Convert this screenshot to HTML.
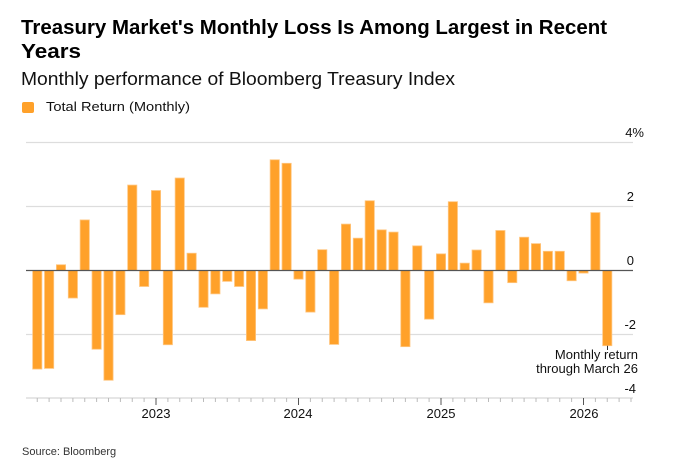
<!DOCTYPE html>
<html><head><meta charset="utf-8"><style>
html,body{margin:0;padding:0;background:#fff;}
svg{display:block;font-family:"Liberation Sans",Arial,sans-serif;}
</style></head><body>
<svg width="676" height="470" viewBox="0 0 676 470" xmlns="http://www.w3.org/2000/svg">
<rect width="676" height="470" fill="#fff"/>
<text x="21" y="34" font-size="20" font-weight="bold" fill="#000" textLength="586" lengthAdjust="spacingAndGlyphs">Treasury Market's Monthly Loss Is Among Largest in Recent</text>
<text x="21" y="58" font-size="20" font-weight="bold" fill="#000" textLength="60" lengthAdjust="spacingAndGlyphs">Years</text>
<text x="21" y="85" font-size="18" fill="#111" textLength="434" lengthAdjust="spacingAndGlyphs">Monthly performance of Bloomberg Treasury Index</text>
<rect x="22" y="102" width="12" height="11" rx="2" fill="#FFA12A"/>
<text x="46" y="111" font-size="13" fill="#111" textLength="144" lengthAdjust="spacingAndGlyphs">Total Return (Monthly)</text>
<g stroke="#ddd" stroke-width="1.2">
<line x1="26" y1="142.5" x2="633" y2="142.5"/>
<line x1="26" y1="206.5" x2="633" y2="206.5"/>
<line x1="26" y1="334.5" x2="633" y2="334.5"/>
</g>
<g font-size="13" fill="#111" text-anchor="end">
<text x="644" y="137">4%</text>
<text x="634" y="201">2</text>
<text x="634" y="265">0</text>
<text x="636" y="329">-2</text>
<text x="636" y="393">-4</text>
</g>
<g fill="#FFA12A" stroke="#FFC680" stroke-width="0.8">
<rect x="32.65" y="270.5" width="9.2" height="98.56"/>
<rect x="44.53" y="270.5" width="9.2" height="97.92"/>
<rect x="56.4" y="264.74" width="9.2" height="5.76"/>
<rect x="68.28" y="270.5" width="9.2" height="27.52"/>
<rect x="80.15" y="219.94" width="9.2" height="50.56"/>
<rect x="92.03" y="270.5" width="9.2" height="78.72"/>
<rect x="103.9" y="270.5" width="9.2" height="109.76"/>
<rect x="115.78" y="270.5" width="9.2" height="44.16"/>
<rect x="127.65" y="185.06" width="9.2" height="85.44"/>
<rect x="139.53" y="270.5" width="9.2" height="16"/>
<rect x="151.4" y="190.5" width="9.2" height="80"/>
<rect x="163.28" y="270.5" width="9.2" height="74.24"/>
<rect x="175.15" y="178.02" width="9.2" height="92.48"/>
<rect x="187.03" y="253.22" width="9.2" height="17.28"/>
<rect x="198.9" y="270.5" width="9.2" height="36.8"/>
<rect x="210.78" y="270.5" width="9.2" height="23.36"/>
<rect x="222.65" y="270.5" width="9.2" height="10.88"/>
<rect x="234.53" y="270.5" width="9.2" height="16"/>
<rect x="246.4" y="270.5" width="9.2" height="70.08"/>
<rect x="258.28" y="270.5" width="9.2" height="38.4"/>
<rect x="270.15" y="159.78" width="9.2" height="110.72"/>
<rect x="282.03" y="163.3" width="9.2" height="107.2"/>
<rect x="293.9" y="270.5" width="9.2" height="8.64"/>
<rect x="305.78" y="270.5" width="9.2" height="41.6"/>
<rect x="317.65" y="249.7" width="9.2" height="20.8"/>
<rect x="329.53" y="270.5" width="9.2" height="73.92"/>
<rect x="341.4" y="224.1" width="9.2" height="46.4"/>
<rect x="353.28" y="238.18" width="9.2" height="32.32"/>
<rect x="365.15" y="200.74" width="9.2" height="69.76"/>
<rect x="377.03" y="229.86" width="9.2" height="40.64"/>
<rect x="388.9" y="232.1" width="9.2" height="38.4"/>
<rect x="400.78" y="270.5" width="9.2" height="76.16"/>
<rect x="412.65" y="245.86" width="9.2" height="24.64"/>
<rect x="424.53" y="270.5" width="9.2" height="48.64"/>
<rect x="436.4" y="253.86" width="9.2" height="16.64"/>
<rect x="448.28" y="201.7" width="9.2" height="68.8"/>
<rect x="460.15" y="263.14" width="9.2" height="7.36"/>
<rect x="472.03" y="250.02" width="9.2" height="20.48"/>
<rect x="483.9" y="270.5" width="9.2" height="32.32"/>
<rect x="495.78" y="230.5" width="9.2" height="40"/>
<rect x="507.65" y="270.5" width="9.2" height="12.16"/>
<rect x="519.53" y="237.22" width="9.2" height="33.28"/>
<rect x="531.4" y="243.62" width="9.2" height="26.88"/>
<rect x="543.28" y="251.3" width="9.2" height="19.2"/>
<rect x="555.15" y="251.3" width="9.2" height="19.2"/>
<rect x="567.03" y="270.5" width="9.2" height="10.24"/>
<rect x="578.9" y="270.5" width="9.2" height="2.56"/>
<rect x="590.78" y="212.58" width="9.2" height="57.92"/>
<rect x="602.65" y="270.5" width="9.2" height="75.2"/>
</g>
<line x1="26" y1="270.5" x2="633" y2="270.5" stroke="#555" stroke-width="1.2"/>
<line x1="26" y1="398" x2="633" y2="398" stroke="#ccc" stroke-width="1"/>
<path stroke="#bbb" stroke-width="1" fill="none" d="M37.25 398V402M49.1 398V402M61 398V402M72.9 398V402M84.75 398V402M96.6 398V402M108.5 398V402M120.4 398V402M132.25 398V402M144.1 398V402M167.9 398V402M179.75 398V402M191.6 398V402M203.5 398V402M215.4 398V402M227.25 398V402M239.1 398V402M251 398V402M262.9 398V402M274.75 398V402M286.6 398V402M310.4 398V402M322.25 398V402M334.1 398V402M346 398V402M357.9 398V402M369.75 398V402M381.6 398V402M393.5 398V402M405.4 398V402M417.25 398V402M429.1 398V402M452.9 398V402M464.75 398V402M476.6 398V402M488.5 398V402M500.4 398V402M512.25 398V402M524.1 398V402M536 398V402M547.9 398V402M559.75 398V402M571.6 398V402M595.4 398V402M607.25 398V402M619.1 398V402M631 398V402"/>
<path stroke="#555" stroke-width="1" fill="none" d="M156 398V405M298.5 398V405M441 398V405M583.5 398V405"/>
<g font-size="13" fill="#111" text-anchor="middle">
<text x="156" y="418">2023</text>
<text x="298" y="418">2024</text>
<text x="441" y="418">2025</text>
<text x="584" y="418">2026</text>
</g>
<line x1="607.5" y1="345.7" x2="607.5" y2="350" stroke="#333"/>
<g font-size="13" fill="#111" text-anchor="end">
<text x="638" y="359">Monthly return</text>
<text x="638" y="373">through March 26</text>
</g>
<text x="22" y="455" font-size="11" fill="#333">Source: Bloomberg</text>
</svg>
</body></html>
